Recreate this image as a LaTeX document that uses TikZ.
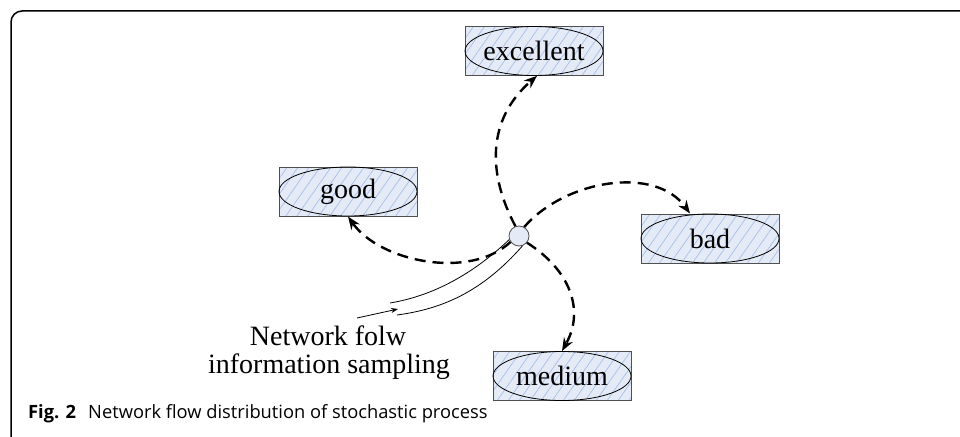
\documentclass[tikz,border=0pt]{standalone}
\usepackage{fontspec}
\setmainfont{Liberation Serif}
\newfontfamily\capfont{Open Sans}
\usetikzlibrary{arrows.meta,patterns.meta,shapes.geometric}
\definecolor{boxfill}{HTML}{E4EAF6}
\definecolor{hatch}{HTML}{A9BFE8}
\definecolor{boxline}{HTML}{505050}
\tikzset{
  x=1pt,y=-1pt,
  stbox/.style={draw=boxline,line width=1pt,minimum width=138pt,minimum height=49pt,inner sep=0pt,
    preaction={fill=boxfill},
    pattern={Lines[angle=55,distance=9pt,line width=0.7pt]},pattern color=hatch},
  boxtext/.style={font=\fontsize{28}{30}\selectfont},
  flowarrow/.style={line width=2.4pt,dash pattern=on 11pt off 7pt,-{Stealth[length=13pt,width=10pt]}},
  pipe/.style={line width=0.8pt},
}
\begin{document}
\begin{tikzpicture}
\useasboundingbox (0,0) rectangle (960,436);
% frame
\draw[line width=1.5pt,rounded corners=11pt] (961,11) -- (11,11) -- (11,437);
% boxes
\node[stbox] (ex) at (534,51) {};
\draw[line width=0.8pt] (ex.center) ellipse [x radius=69, y radius=24.5];
\node[boxtext] at (ex.center) {excellent};
\node[stbox] (gd) at (348,191.5) {};
\draw[line width=0.8pt] (gd.center) ellipse [x radius=69, y radius=24.5];
\node[boxtext] at (gd.center) {good};
\node[stbox] (bd) at (710,238.5) {};
\draw[line width=0.8pt] (bd.center) ellipse [x radius=69, y radius=24.5];
\node[boxtext] at (bd.center) {bad};
\node[stbox] (md) at (562,376) {};
\draw[line width=0.8pt] (md.center) ellipse [x radius=69, y radius=24.5];
\node[boxtext] at (md.center) {medium};
% centre circle
\node[circle,draw=boxline,fill=boxfill,line width=0.8pt,minimum size=20pt,inner sep=0pt] (c) at (519,236) {};
% dashed arrows
\draw[flowarrow] (c.110) .. controls (488,175) and (486,120) .. ([xshift=3pt]ex.south);
\draw[flowarrow] (c.60) .. controls (565,180) and (655,165) .. ([xshift=-20pt]bd.north);
\draw[flowarrow] (c.215) .. controls (470,280) and (380,262) .. (gd.south);
\draw[flowarrow] (c.-40) .. controls (570,270) and (585,310) .. (md.north);
% pipe
\coordinate (p1) at (390,303);
\coordinate (p2) at (397,315);
\draw[pipe] (c.200) .. controls (472,275) and (432,296) .. (p1);
\draw[pipe] (c.-70) .. controls (482,292) and (442,309) .. (p2);
\coordinate (a0) at (357,318);
\coordinate (a1) at (398,309);
\draw[pipe,-{Stealth[length=7pt,width=5pt]}] (a0) -- (a1);
% label
\node[anchor=base,boxtext] (lbl) at (328,345) {Network folw};
\node[anchor=base,boxtext] (lbl2) at (329,373) {information sampling};
% caption
\node[anchor=base west,inner sep=0pt,font=\capfont\fontsize{18.3}{21}\selectfont] (cap) at (28,418) {\textbf{Fig. 2}\hspace{0.4em} Network flow distribution of stochastic process};
\end{tikzpicture}
\end{document}
